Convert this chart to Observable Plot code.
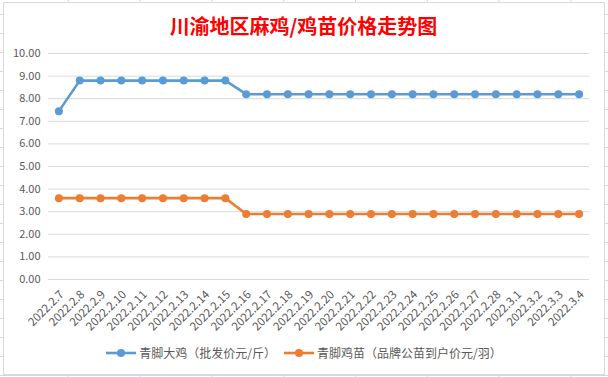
<!DOCTYPE html>
<html><head><meta charset="utf-8">
<script src="https://cdn.jsdelivr.net/npm/d3@7"></script>
<script src="https://cdn.jsdelivr.net/npm/@observablehq/plot@0.6"></script>
<style>
html,body{margin:0;padding:0;}
body{width:608px;height:377px;overflow:hidden;position:relative;background-color:#fff;
background-image:
 repeating-linear-gradient(to bottom, transparent 0, transparent 14px, #d5d8e0 14px, #d5d8e0 15px, transparent 15px, transparent 19px),
 repeating-linear-gradient(to right, transparent 0, transparent 67.6px, #d5d8e0 67.6px, #d5d8e0 68.6px, transparent 68.6px, transparent 71.8px);
background-size:608px 19px, 71.8px 377px;}
#frame{position:absolute;left:3px;top:2px;width:600px;height:371px;background:#fff;border:1px solid #d9d9d9;}
#title{position:absolute;left:3px;width:601px;top:12px;text-align:center;color:#ff0000;font:bold 20px "Noto Sans CJK SC",sans-serif;line-height:28px;}
#chart{position:absolute;left:0;top:40px;}
#legend{position:absolute;left:0;width:608px;top:344px;display:flex;justify-content:center;gap:8px;font:12px "Noto Sans CJK SC",sans-serif;color:#595959;line-height:18px;}
#legend .item{display:flex;align-items:center;gap:3px;}
</style></head>
<body>
<div id="frame"></div>
<div id="title"></div>
<div id="chart"></div>
<div id="legend"></div>
<script>
const titleText = "川渝地区麻鸡/鸡苗价格走势图";
const dates = ["2022.2.7","2022.2.8","2022.2.9","2022.2.10","2022.2.11","2022.2.12","2022.2.13","2022.2.14","2022.2.15","2022.2.16","2022.2.17","2022.2.18","2022.2.19","2022.2.20","2022.2.21","2022.2.22","2022.2.23","2022.2.24","2022.2.25","2022.2.26","2022.2.27","2022.2.28","2022.3.1","2022.3.2","2022.3.3","2022.3.4"];
const seriesNames = ["青脚大鸡（批发价元/斤）","青脚鸡苗（品牌公苗到户价元/羽）"];
const bigChicken = [7.45,8.8,8.8,8.8,8.8,8.8,8.8,8.8,8.8,8.2,8.2,8.2,8.2,8.2,8.2,8.2,8.2,8.2,8.2,8.2,8.2,8.2,8.2,8.2,8.2,8.2];
const chickSeed = [3.6,3.6,3.6,3.6,3.6,3.6,3.6,3.6,3.6,2.9,2.9,2.9,2.9,2.9,2.9,2.9,2.9,2.9,2.9,2.9,2.9,2.9,2.9,2.9,2.9,2.9];
const yTicks = [0,1,2,3,4,5,6,7,8,9,10];
const colors = ["#5b9bd5","#ed7d31"];

document.getElementById("title").textContent = titleText;

const data = [];
dates.forEach((d,i)=>{
  data.push({date:d, value:bigChicken[i], series:seriesNames[0]});
  data.push({date:d, value:chickSeed[i], series:seriesNames[1]});
});

const chart = Plot.plot({
  width: 608,
  height: 300,
  marginLeft: 48,
  marginRight: 19,
  marginTop: 13,
  marginBottom: 61,
  style: {fontFamily: '"Noto Sans CJK SC", sans-serif', fontSize: "11px", color: "#595959", background: "transparent"},
  x: {type: "point", domain: dates, padding: 0.5, round: false},
  y: {domain: [0,10]},
  color: {domain: seriesNames, range: colors},
  marks: [
    Plot.gridY(yTicks, {stroke: "#d9d9d9", strokeOpacity: 1, strokeWidth: 1}),
    Plot.axisY(yTicks, {tickSize: 0, tickPadding: 8, tickFormat: d3.format(".2f"), label: null, fill: "#595959"}),
    Plot.axisX({tickSize: 0, tickPadding: 13, dx: 3, tickRotate: -45, label: null, fill: "#595959", fontSize: 11.5}),
    Plot.line(data, {x: "date", y: "value", z: "series", stroke: "series", strokeWidth: 2.6}),
    Plot.dot(data, {x: "date", y: "value", fill: "series", r: 4, stroke: null})
  ]
});
document.getElementById("chart").appendChild(chart);

const legend = document.getElementById("legend");
seriesNames.forEach((n,i)=>{
  const item = document.createElement("span");
  item.className = "item";
  item.innerHTML = `<svg width="30" height="10"><line x1="0" x2="30" y1="5" y2="5" stroke="${colors[i]}" stroke-width="2.6"/><circle cx="15" cy="5" r="4" fill="${colors[i]}"/></svg><span>${n}</span>`;
  legend.appendChild(item);
});
</script>
</body></html>
